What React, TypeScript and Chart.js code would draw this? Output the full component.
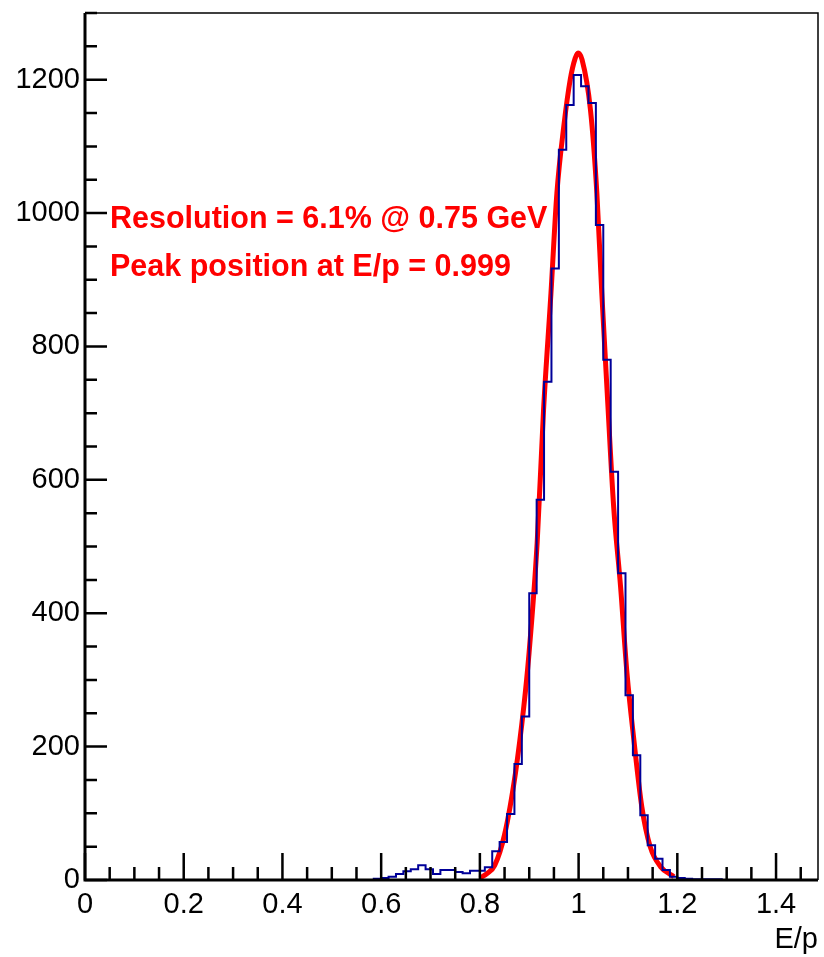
import React, { useEffect, useRef } from "react";
import { Chart, registerables } from "chart.js";

Chart.register(...registerables);

// ---- axis ranges / ticks ----
const X_MIN = 0;
const X_MAX = 1.485;
const Y_MIN = 0;
const Y_MAX = 1300;
const X_MAJOR_STEP = 0.2;
const X_MINOR_STEP = 0.05;
const Y_MAJOR_STEP = 200;
const Y_MINOR_STEP = 50;

// ---- histogram (E/p), 0.015 wide bins starting at 0.585 ----
const BIN_WIDTH = 0.015;
const FIRST_BIN_LOW = 0.585;
const BIN_COUNTS = [
  2, 3, 5, 9, 13, 16, 22, 16, 9, 15,
  15, 12, 10, 14, 14, 19, 43, 57, 99, 174,
  245, 430, 570, 747, 917, 1095, 1162, 1207, 1190, 1165,
  982, 780, 612, 460, 277, 187, 97, 52, 32, 15,
  5, 3, 2, 1, 1, 1, 1,
];

// ---- gaussian fit curve ----
const FIT_X = [
  0.8, 0.815, 0.83, 0.85, 0.872, 0.889, 0.899, 0.916, 0.929, 0.944,
  0.956, 0.97, 0.983, 0.993, 0.999, 1.007, 1.024, 1.037, 1.047, 1.058,
  1.071, 1.085, 1.098, 1.112, 1.128, 1.145, 1.166, 1.193,
];
const FIT_Y = [
  3, 10, 22, 68, 160, 260, 335, 505, 705, 880,
  1030, 1130, 1200, 1232, 1240, 1230, 1155, 1030, 880, 730,
  560, 440, 310, 210, 110, 50, 20, 5,
];

const X_TITLE = "E/p";
const NOTE_LINES = ["Resolution = 6.1% @ 0.75 GeV", "Peak position at E/p = 0.999"];

const FONT = '"Liberation Sans", Arial, Helvetica, sans-serif';

const histData = (() => {
  const pts: { x: number; y: number }[] = [{ x: X_MIN, y: 0 }];
  BIN_COUNTS.forEach((c, i) => pts.push({ x: FIRST_BIN_LOW + i * BIN_WIDTH, y: c }));
  pts.push({ x: FIRST_BIN_LOW + BIN_COUNTS.length * BIN_WIDTH, y: 0 });
  pts.push({ x: X_MAX, y: 0 });
  return pts;
})();

const fitData = FIT_X.map((x, i) => ({ x, y: FIT_Y[i] }));

const framePlugin = {
  id: "rootFrame",
  afterDatasetsDraw(chart: any) {
    const { ctx, chartArea: a, scales } = chart;
    const xs = scales.x;
    const ys = scales.y;
    ctx.save();
    ctx.strokeStyle = "#000";
    ctx.lineCap = "butt";
    // thin frame top/right
    ctx.lineWidth = 1.5;
    ctx.beginPath();
    ctx.moveTo(a.left, a.top);
    ctx.lineTo(a.right, a.top);
    ctx.lineTo(a.right, a.bottom);
    ctx.stroke();

    // ticks (inward)
    ctx.lineWidth = 2.5;
    ctx.beginPath();
    const nx = Math.round((X_MAX - X_MIN) / X_MINOR_STEP);
    for (let i = 0; i <= nx; i++) {
      const v = X_MIN + i * X_MINOR_STEP;
      if (v > X_MAX + 1e-9) break;
      const r = v / X_MAJOR_STEP;
      const major = Math.abs(r - Math.round(r)) < 1e-6;
      const px = xs.getPixelForValue(v);
      ctx.moveTo(px, a.bottom);
      ctx.lineTo(px, a.bottom - (major ? 27 : 13));
    }
    const ny = Math.round((Y_MAX - Y_MIN) / Y_MINOR_STEP);
    for (let i = 0; i <= ny; i++) {
      const v = Y_MIN + i * Y_MINOR_STEP;
      const r = v / Y_MAJOR_STEP;
      const major = Math.abs(r - Math.round(r)) < 1e-6;
      const py = ys.getPixelForValue(v);
      ctx.moveTo(a.left, py);
      ctx.lineTo(a.left + (major ? 22 : 12), py);
    }
    ctx.stroke();

    // axes
    ctx.lineWidth = 3;
    ctx.beginPath();
    ctx.moveTo(a.left, a.top);
    ctx.lineTo(a.left, a.bottom);
    ctx.lineTo(a.right, a.bottom);
    ctx.stroke();

    // annotation
    ctx.fillStyle = "#ff0000";
    ctx.font = `bold 30.5px ${FONT}`;
    ctx.textAlign = "left";
    ctx.textBaseline = "alphabetic";
    ctx.fillText(NOTE_LINES[0], a.left + 25, 228);
    ctx.fillText(NOTE_LINES[1], a.left + 25, 276);
    ctx.restore();
  },
};

export default function App() {
  const ref = useRef<HTMLCanvasElement | null>(null);
  useEffect(() => {
    if (!ref.current) return;
    const chart = new Chart(ref.current, {
      type: "line",
      data: {
        datasets: [
          {
            data: histData,
            borderColor: "#000099",
            borderWidth: 2,
            pointRadius: 0,
            stepped: "before",
            fill: false,
          },
          {
            data: fitData,
            borderColor: "#ff0000",
            borderWidth: 5,
            pointRadius: 0,
            cubicInterpolationMode: "monotone",
            fill: false,
          },
        ],
      } as any,
      options: {
        responsive: false,
        animation: false,
        devicePixelRatio: 1,
        parsing: false,
        layout: { padding: { left: 0, right: 6, top: 13, bottom: 0 } },
        plugins: { legend: { display: false }, tooltip: { enabled: false } },
        scales: {
          x: {
            type: "linear",
            min: X_MIN,
            max: X_MAX,
            grid: { display: false, drawTicks: false },
            border: { display: false },
            ticks: {
              stepSize: X_MAJOR_STEP,
              includeBounds: false,
              autoSkip: false,
              maxRotation: 0,
              padding: 8,
              color: "#000",
              font: { size: 29, family: FONT },
              callback: (v: any) => String(Math.round(Number(v) * 10) / 10),
            },
            title: {
              display: true,
              text: X_TITLE,
              align: "end",
              color: "#000",
              font: { size: 29, family: FONT },
              padding: { top: 0, bottom: 0 },
            },
            afterFit: (s: any) => {
              s.height = 77;
              s.paddingLeft = 0;
              s.paddingRight = 0;
            },
          },
          y: {
            type: "linear",
            min: Y_MIN,
            max: Y_MAX,
            grid: { display: false, drawTicks: false },
            border: { display: false },
            ticks: {
              stepSize: Y_MAJOR_STEP,
              includeBounds: false,
              autoSkip: false,
              padding: 5,
              color: "#000",
              font: { size: 29, family: FONT },
              callback: (v: any) => String(v),
            },
            afterFit: (s: any) => {
              s.width = 85;
              s.paddingTop = 0;
              s.paddingBottom = 0;
            },
          },
        },
      } as any,
      plugins: [framePlugin],
    });
    return () => chart.destroy();
  }, []);
  return (
    <canvas
      ref={ref}
      width={824}
      height={957}
      style={{ position: "absolute", left: 0, top: 0, display: "block", width: 824, height: 957 }}
    />
  );
}
